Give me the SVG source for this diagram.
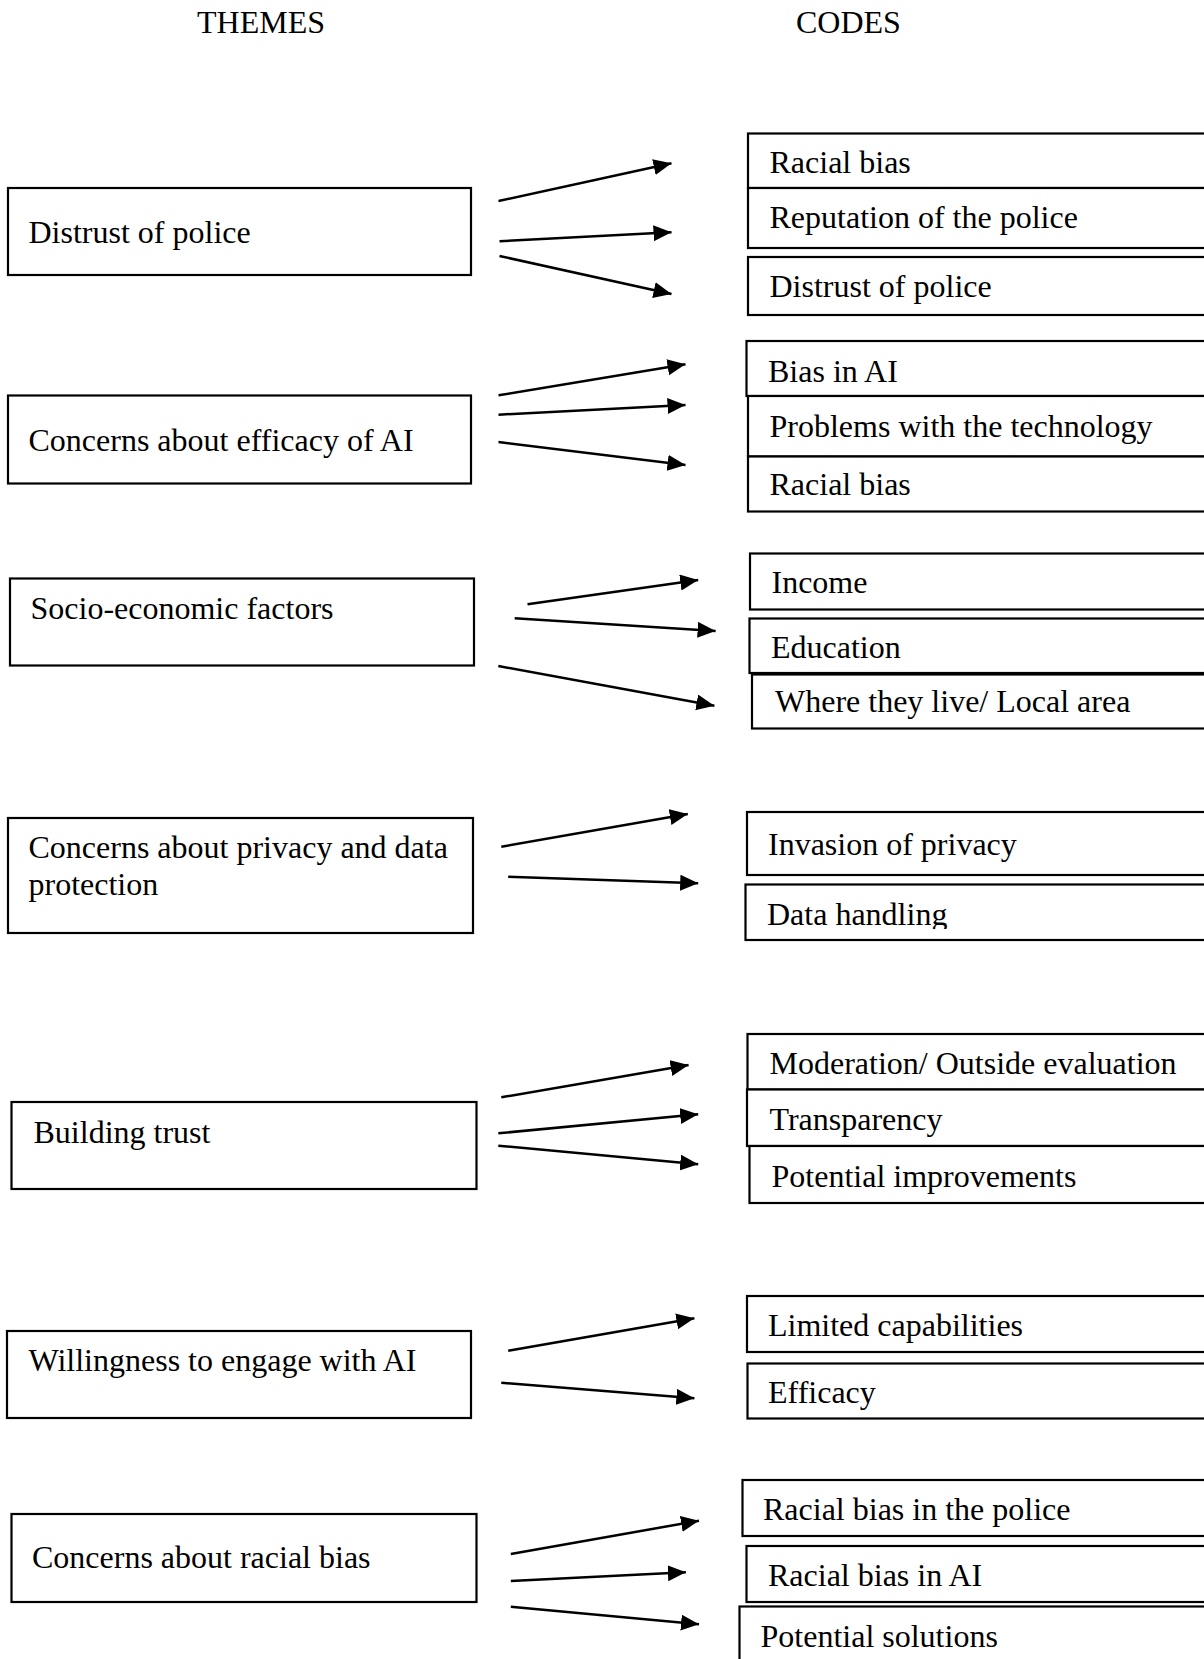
<svg xmlns="http://www.w3.org/2000/svg" width="1204" height="1659" viewBox="0 0 1204 1659">
<style>
text{font-family:"Liberation Serif","Times New Roman",serif;font-size:32px;fill:#000}
.box{fill:#fff;stroke:#000;stroke-width:2.2}
.arr{stroke:#000;stroke-width:2.5;fill:none;marker-end:url(#ah)}
</style>
<defs>
<marker id="ah" markerUnits="userSpaceOnUse" markerWidth="19" markerHeight="17" refX="18" refY="8" orient="auto">
<path d="M0,0 L18,8 L0,16 z" fill="#000"/>
</marker>
<clipPath id="clipData"><rect x="740" y="884" width="470" height="45"/></clipPath>
</defs>
<rect width="1204" height="1659" fill="#fff"/>
<g id="headers">
<text x="197" y="33">THEMES</text>
<text x="796" y="33">CODES</text>
</g>
<g id="themes">
<g id="t1"><rect class="box" x="8" y="188" width="463" height="87"/><text x="28.5" y="243">Distrust of police</text></g>
<g id="t2"><rect class="box" x="8" y="395.5" width="463" height="88"/><text x="28.5" y="451">Concerns about efficacy of AI</text></g>
<g id="t3"><rect class="box" x="10" y="578.5" width="464" height="87"/><text x="30.5" y="619">Socio-economic factors</text></g>
<g id="t4"><rect class="box" x="8" y="818" width="465" height="115"/><text x="28.5" y="858">Concerns about privacy and data</text><text x="28.5" y="895">protection</text></g>
<g id="t5"><rect class="box" x="11.5" y="1102" width="465" height="87"/><text x="33.5" y="1142.5">Building trust</text></g>
<g id="t6"><rect class="box" x="7" y="1331" width="464" height="87"/><text x="28.5" y="1370.5">Willingness to engage with AI</text></g>
<g id="t7"><rect class="box" x="11.5" y="1514" width="465" height="88"/><text x="32" y="1568">Concerns about racial bias</text></g>
</g>
<g id="codes">
<g id="c1"><rect class="box" x="748" y="133.5" width="464" height="54.5"/><text x="769.5" y="173">Racial bias</text></g>
<g id="c2"><rect class="box" x="748" y="188" width="464" height="60"/><text x="769.5" y="228">Reputation of the police</text></g>
<g id="c3"><rect class="box" x="748" y="257" width="464" height="58"/><text x="769.5" y="297">Distrust of police</text></g>
<g id="c4"><rect class="box" x="746.5" y="341" width="466" height="55"/><text x="768" y="381.5">Bias in AI</text></g>
<g id="c5"><rect class="box" x="748" y="396" width="464" height="60.5"/><text x="769.5" y="436.5">Problems with the technology</text></g>
<g id="c6"><rect class="box" x="748" y="456.5" width="464" height="55"/><text x="769.5" y="495">Racial bias</text></g>
<g id="c7"><rect class="box" x="750" y="553.5" width="462" height="56"/><text x="771.5" y="593">Income</text></g>
<g id="c8"><rect class="box" x="749.5" y="618.5" width="463" height="54.5"/><text x="771" y="658">Education</text></g>
<g id="c9"><rect class="box" x="752" y="674.5" width="460" height="54"/><text x="775" y="712">Where they live/ Local area</text></g>
<g id="c10"><rect class="box" x="747" y="812" width="465" height="63"/><text x="768" y="855">Invasion of privacy</text></g>
<g id="c11"><rect class="box" x="745.5" y="884.5" width="467" height="55.5"/><text x="767" y="925" clip-path="url(#clipData)">Data handling</text></g>
<g id="c12"><rect class="box" x="747.5" y="1034" width="465" height="55.5"/><text x="769.5" y="1074">Moderation/ Outside evaluation</text></g>
<g id="c13"><rect class="box" x="747" y="1089.5" width="465" height="56.5"/><text x="769.5" y="1130">Transparency</text></g>
<g id="c14"><rect class="box" x="749.5" y="1146" width="463" height="57"/><text x="771.5" y="1186.5">Potential improvements</text></g>
<g id="c15"><rect class="box" x="747" y="1296" width="465" height="56"/><text x="768" y="1336">Limited capabilities</text></g>
<g id="c16"><rect class="box" x="747.5" y="1363.5" width="465" height="55"/><text x="768" y="1403">Efficacy</text></g>
<g id="c17"><rect class="box" x="742.5" y="1480" width="470" height="56"/><text x="763" y="1520">Racial bias in the police</text></g>
<g id="c18"><rect class="box" x="746.5" y="1546" width="466" height="56"/><text x="768" y="1586">Racial bias in AI</text></g>
<g id="c19"><rect class="box" x="739.5" y="1606.5" width="473" height="60"/><text x="760.5" y="1646.5">Potential solutions</text></g>
</g>
<g id="connectors">
<line class="arr" x1="498.5" y1="201" x2="671.5" y2="163.3"/>
<line class="arr" x1="499.5" y1="241.3" x2="671.5" y2="232.3"/>
<line class="arr" x1="499.5" y1="256" x2="671.5" y2="294"/>
<line class="arr" x1="498.5" y1="395.3" x2="685.5" y2="364.3"/>
<line class="arr" x1="498.5" y1="414.7" x2="685.5" y2="405"/>
<line class="arr" x1="498.5" y1="442" x2="685.5" y2="465"/>
<line class="arr" x1="527.5" y1="604.3" x2="698.2" y2="580"/>
<line class="arr" x1="514.7" y1="618.3" x2="715.6" y2="631"/>
<line class="arr" x1="498.3" y1="666" x2="714.4" y2="705.7"/>
<line class="arr" x1="501.3" y1="846.7" x2="687.8" y2="814"/>
<line class="arr" x1="508.2" y1="876.7" x2="698.2" y2="883.3"/>
<line class="arr" x1="501.3" y1="1097.3" x2="688.6" y2="1065"/>
<line class="arr" x1="498.3" y1="1133.3" x2="698.2" y2="1114.3"/>
<line class="arr" x1="498.3" y1="1145.7" x2="698.2" y2="1164.3"/>
<line class="arr" x1="508.2" y1="1350.7" x2="694.4" y2="1318.3"/>
<line class="arr" x1="501.3" y1="1382.7" x2="694.4" y2="1398.3"/>
<line class="arr" x1="510.8" y1="1554" x2="699" y2="1520.7"/>
<line class="arr" x1="510.8" y1="1581" x2="685.9" y2="1572.3"/>
<line class="arr" x1="510.8" y1="1606.7" x2="699" y2="1624.3"/>
</g>
</svg>
